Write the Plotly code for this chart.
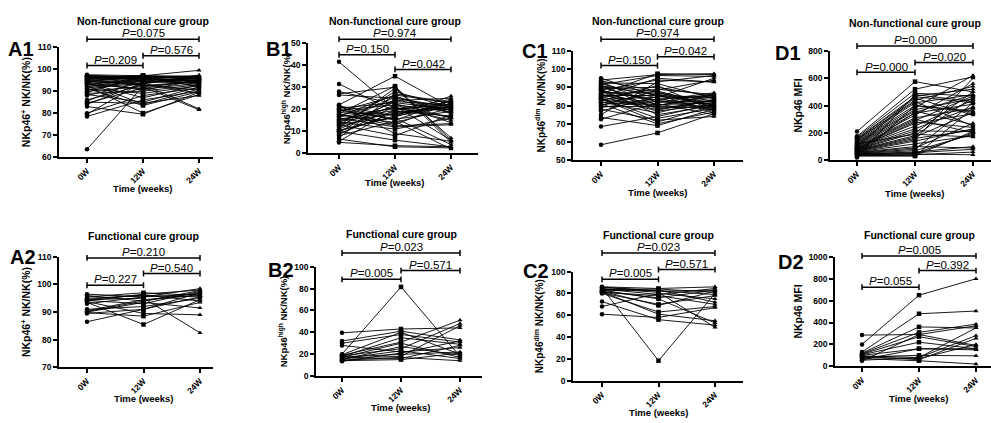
import plotly.graph_objects as go

# ---------------- data ----------------
CATEGORIES = ["0W", "12W", "24W"]

A1_0W = [97.5, 97, 96.8, 96.5, 96.3, 96, 95.8, 95.5, 95.2, 95, 94.6, 94.3, 94, 93.6, 93.2, 92.8, 92.5, 92, 91.5, 91,
         90.5, 90, 89.5, 89, 88.5, 88, 86, 85.5, 85, 84.5, 84, 83, 80, 79.5, 78.5, 63.5, 96.2, 95.4, 94.8, 93.8, 92.2,
         91.2, 96.9, 97.2, 94.1]
A1_12W = [97, 96.5, 96.8, 96, 95.5, 97, 94, 96.2, 93, 95.8, 92.5, 96.5, 84, 95, 91, 96, 80, 94.5, 93.5, 89,
          95.3, 92, 96.8, 90, 85, 94, 92.8, 95.5, 84.5, 91.5, 93.8, 79.5, 88, 94.2, 86, 92.3, 96.3, 97.2, 93.2, 87, 95.7,
          83.5, 94.8, 96.1, 90.5]
A1_24W = [99.5, 96, 95.5, 94, 97, 96.5, 95, 93, 82, 96, 94.5, 92, 91, 95.8, 93.5, 96.8, 88.5, 94, 89, 92.5,
          95.2, 81.5, 97, 93, 92, 96, 90.5, 94.8, 88, 95, 96.2, 89.5, 91.5, 93.8, 90, 94.2, 96.3, 95.6, 97.3, 92.8, 94.6,
          89.8, 95.1, 96.7, 94.9]
A1_P = ["0.209", "0.576", "0.075"]

B1_0W = [41.5, 31.5, 28, 27, 26.5, 22, 21.5, 21, 20.5, 20, 19.5, 19, 18.5, 18, 17.5, 17, 16.5, 16, 15.5, 15,
         14.5, 14, 13.5, 13, 12.5, 12, 11.5, 11, 10.5, 10, 9.5, 9, 8.5, 8, 7, 6.5, 5.5, 5, 19.8, 16.8, 14.2, 21.8,
         12.8, 17.8, 10.2]
B1_12W = [20, 19, 22.5, 30, 25, 35, 17, 15, 23, 13, 22, 26, 17.5, 30.5, 14, 24, 20.5, 12, 19.5, 21,
          18, 25.5, 16, 8, 23.5, 19, 29.5, 22, 16.5, 6, 24.5, 18.5, 21.5, 14.5, 27, 3, 20, 3.5, 15.5, 26.5, 11, 9,
          28, 12.5, 17]
B1_24W = [22, 17, 16, 5, 21, 21, 26, 24, 20, 23, 19, 18, 22.5, 6, 20.5, 25, 16.5, 13, 23.5, 15,
          21.5, 19.5, 4, 17.5, 22, 20, 7, 14, 24, 3, 18.5, 21, 6, 2, 23, 2.5, 24.5, 3, 19, 22.8, 16, 5.5,
          20.8, 13.5, 21.2]
B1_P = ["0.150", "0.042", "0.974"]

C1_0W = [95, 94, 93.5, 93, 92.5, 92, 91.5, 91, 90.5, 90, 89.5, 89, 88.5, 88, 87.5, 87, 86.5, 86, 85.5, 85,
         84.5, 84, 83.5, 83, 82.5, 82, 81.5, 81, 80.5, 80, 79.5, 79, 78, 77, 75, 73.5, 72.5, 68.5, 58.5, 86.2, 84.8,
         83.8, 90.8, 81.8, 88.2]
C1_12W = [85, 97, 88, 80, 92, 84, 96.5, 78, 86, 82, 90, 75, 94, 83, 79, 87, 97.5, 81, 85.5, 77,
          89, 73, 84.5, 80.5, 91, 76, 86.5, 70, 83.5, 88.5, 79.5, 82.5, 72, 85, 93, 69, 81.5, 74, 65, 77.5, 95,
          71, 87.5, 80, 83]
C1_24W = [82, 97.5, 80, 86, 84, 78, 96, 83, 76, 81, 85, 80, 93, 87, 79, 82.5, 97, 75, 84.5, 80.5,
          86, 78.5, 95, 81.5, 77, 83.5, 79.5, 76.5, 85.5, 94, 80, 82, 74, 84, 96.5, 78, 86.5, 81, 75.5, 83, 92.8,
          80, 79, 85, 77.5]
C1_P = ["0.150", "0.042", "0.974"]

D1_0W = [210, 175, 168, 160, 155, 148, 140, 135, 130, 125, 120, 115, 110, 105, 100, 95, 92, 88, 85, 80,
         78, 75, 72, 70, 66, 62, 60, 57, 55, 52, 50, 47, 45, 42, 40, 38, 35, 30, 25, 20, 100, 65, 85, 120, 150]
D1_12W = [575, 520, 490, 465, 455, 440, 420, 400, 385, 370, 360, 345, 330, 310, 300, 290, 270, 250, 230, 215,
          200, 180, 170, 160, 150, 140, 120, 100, 90, 80, 70, 60, 55, 50, 45, 40, 35, 30, 480, 400, 470, 350, 280,
          190, 430]
D1_24W = [500, 610, 470, 420, 330, 540, 480, 360, 620, 450, 260, 410, 560, 380, 200, 470, 340, 440, 390, 210,
          500, 460, 350, 220, 600, 230, 180, 90, 270, 420, 190, 100, 80, 200, 40, 60, 210, 380, 430, 350, 520,
          480, 240, 170, 250]
D1_P = ["0.000", "0.020", "0.000"]

A2_0W = [96.5, 96, 95.5, 95, 94.5, 94.2, 94, 93.8, 93.5, 93, 91, 90.5, 90, 89.8, 89.5, 86.5, 94.6, 90.2]
A2_12W = [95.5, 94, 97, 96, 95, 93, 96.5, 89.5, 85.5, 95.5, 92, 94.5, 93.5, 88.5, 91, 91, 96.2, 94]
A2_24W = [98.5, 97, 96, 95.5, 82.5, 97.5, 98, 89, 94.5, 96.5, 95, 96, 91.5, 93.5, 95.5, 97, 94, 97.8]
A2_P = ["0.227", "0.540", "0.210"]

B2_0W = [39.5, 32, 30, 28, 20, 19.5, 19, 18.5, 18, 17.5, 17, 16.5, 16, 15.5, 15, 14.5, 14, 13.5]
B2_12W = [43, 41, 38, 22, 81.5, 40, 31, 25, 35, 20, 30, 18, 23, 16, 27, 17, 15, 21]
B2_24W = [44, 33, 31, 26, 18, 20, 51, 48, 29, 22, 17, 46, 16, 28, 19, 14, 21, 32]
B2_P = ["0.005", "0.571", "0.023"]

C2_0W = [86, 85.5, 85, 84.5, 84, 83, 82.5, 82, 81.5, 81, 80.5, 80, 72.5, 68, 61, 83.5, 81.8, 85.8]
C2_12W = [84.5, 82, 18.5, 81, 79, 75, 83, 69, 61, 78, 70, 63, 56, 80, 58, 84, 76, 82.5]
C2_24W = [86, 83, 80, 49, 84.5, 53, 72, 82, 55, 70, 78, 68, 51, 75, 67, 81, 83, 79]
C2_P = ["0.005", "0.571", "0.023"]

D2_0W = [285, 200, 130, 120, 115, 110, 105, 100, 95, 90, 85, 80, 70, 60, 55, 50]
D2_12W = [290, 650, 480, 360, 310, 270, 220, 160, 80, 60, 100, 70, 50, 160, 80, 290]
D2_24W = [370, 800, 505, 350, 385, 180, 160, 160, 280, 255, 95, 200, 20, 150, 350, 190]
D2_P = ["0.055", "0.392", "0.005"]

NONFUNC_TITLE = "Non-functional cure group"
FUNC_TITLE = "Functional cure group"
X_TITLE = "Time (weeks)"
Y_A = "NKp46<sup>+</sup> NK/NK(%)"
Y_B = "NKp46<sup>high</sup> NK/NK(%)"
Y_C = "NKp46<sup>dim</sup> NK/NK(%)"
Y_D = "NKp46 MFI"

# ---------------- layout geometry (pixels) ----------------
W, H = 991, 423
FONT = "Liberation Sans"


def fx(px):
    return px / W


def fy(py):
    return 1 - py / H


panels = [
    dict(key="A1", data=(A1_0W, A1_12W, A1_24W), p=A1_P, title=NONFUNC_TITLE, ylab=Y_A,
         yr=(60, 110), dt=10, xl=59, xr=213, cat0=87, step=56, yt=43.3, yb=155.7,
         br=(62, 52, 35), lab=(21, 45), ytx=25, xty=188, tty=16.5, ysz=10.5),
    dict(key="B1", data=(B1_0W, B1_12W, B1_24W), p=B1_P, title=NONFUNC_TITLE, ylab=Y_B,
         yr=(0, 50), dt=10, xl=308, xr=478, cat0=339, step=56, yt=39, yb=152,
         br=(51, 66, 35), lab=(279, 45), ytx=286, xty=182, tty=16.5, ysz=9.5),
    dict(key="C1", data=(C1_0W, C1_12W, C1_24W), p=C1_P, title=NONFUNC_TITLE, ylab=Y_C,
         yr=(50, 110), dt=10, xl=573, xr=743, cat0=601, step=56.5, yt=47, yb=159,
         br=(62, 53, 35), lab=(535, 47), ytx=540, xty=192, tty=16.5, ysz=10),
    dict(key="D1", data=(D1_0W, D1_12W, D1_24W), p=D1_P, title=NONFUNC_TITLE, ylab=Y_D,
         yr=(0, 800), dt=200, xl=830, xr=991, cat0=857, step=58, yt=47, yb=159,
         br=(69, 59, 42), lab=(788, 49), ytx=798, xty=193, tty=18, ysz=10.5),
    dict(key="A2", data=(A2_0W, A2_12W, A2_24W), p=A2_P, title=FUNC_TITLE, ylab=Y_A,
         yr=(70, 110), dt=10, xl=59, xr=213, cat0=87, step=56.5, yt=258, yb=371,
         br=(287, 275, 259), lab=(23, 258), ytx=25, xty=403, tty=237, ysz=10.5),
    dict(key="B2", data=(B2_0W, B2_12W, B2_24W), p=B2_P, title=FUNC_TITLE, ylab=Y_B,
         yr=(0, 100), dt=20, xl=316, xr=482, cat0=342, step=59, yt=268, yb=380,
         br=(281, 272, 254), lab=(281, 271), ytx=283, xty=412, tty=234.5, ysz=9.5),
    dict(key="C2", data=(C2_0W, C2_12W, C2_24W), p=C2_P, title=FUNC_TITLE, ylab=Y_C,
         yr=(0, 100), dt=20, xl=573, xr=743, cat0=602, step=56.5, yt=273, yb=385,
         br=(281, 271, 254), lab=(536, 272), ytx=539, xty=417, tty=236, ysz=10),
    dict(key="D2", data=(D2_0W, D2_12W, D2_24W), p=D2_P, title=FUNC_TITLE, ylab=Y_D,
         yr=(0, 1000), dt=200, xl=835, xr=991, cat0=862, step=57, yt=258, yb=370,
         br=(289, 272, 257), lab=(791, 263), ytx=798, xty=403, tty=235.5, ysz=10.5),
]

SYMS = ["circle", "square", "triangle-up"]

fig = go.Figure()
shapes = []
annotations = []
layout_axes = {}

for i, pn in enumerate(panels, start=1):
    sfx = "" if i == 1 else str(i)
    xid, yid = "x" + sfx, "y" + sfx
    cols = pn["data"]
    n = len(cols[0])
    xs, ys, syms = [], [], []
    for k in range(n):
        for c in range(3):
            xs.append(c)
            ys.append(cols[c][k])
            syms.append(SYMS[c])
        xs.append(None)
        ys.append(None)
        syms.append("circle")
    fig.add_trace(go.Scatter(
        x=xs, y=ys, mode="lines+markers", xaxis=xid, yaxis=yid,
        line=dict(color="black", width=0.9),
        marker=dict(symbol=syms, size=4.5, color="black"),
        connectgaps=False, showlegend=False, hoverinfo="skip", cliponaxis=False,
    ))

    lo = -(pn["cat0"] - pn["xl"]) / pn["step"]
    hi = (pn["xr"] - pn["cat0"]) / pn["step"]
    tickfont = dict(family=FONT, size=8.5, color="black", weight="bold")
    layout_axes["xaxis" + sfx] = dict(
        domain=[fx(pn["xl"]), min(1.0, fx(pn["xr"]))], range=[lo, hi], anchor=yid,
        tickmode="array", tickvals=[0, 1, 2], ticktext=CATEGORIES, tickangle=-45,
        showline=True, linewidth=1.5, linecolor="black", ticks="outside", ticklen=4,
        tickwidth=1.5, tickcolor="black", showgrid=False, zeroline=False,
        tickfont=tickfont, fixedrange=True,
    )
    y0, y1 = pn["yr"]
    layout_axes["yaxis" + sfx] = dict(
        domain=[fy(pn["yb"]), fy(pn["yt"])], range=[y0, y1], anchor=xid,
        tick0=y0, dtick=pn["dt"], showline=True, linewidth=1.5, linecolor="black",
        ticks="outside", ticklen=4, tickwidth=1.5, tickcolor="black",
        showgrid=False, zeroline=False, tickfont=tickfont, fixedrange=True,
    )

    # significance brackets
    pairs = [(0, 1), (1, 2), (0, 2)]
    for (a, b), py, ptxt in zip(pairs, pn["br"], pn["p"]):
        ln = dict(color="black", width=1.5)
        shapes.append(dict(type="line", xref=xid, yref="paper", x0=a, x1=b,
                           y0=fy(py), y1=fy(py), line=ln))
        for xe in (a, b):
            shapes.append(dict(type="line", xref=xid, yref="paper", x0=xe, x1=xe,
                               y0=fy(py - 3), y1=fy(py + 3), line=ln))
        annotations.append(dict(x=(a + b) / 2, xref=xid, y=fy(py - 6), yref="paper",
                                text="<i>P</i>=" + ptxt, showarrow=False,
                                xanchor="center", yanchor="middle",
                                font=dict(family=FONT, size=11.5, color="black")))

    # panel title
    annotations.append(dict(x=1, xref=xid, y=fy(pn["tty"]), yref="paper",
                            text="<b>" + pn["title"] + "</b>", showarrow=False,
                            xanchor="center", yanchor="middle",
                            font=dict(family=FONT, size=10.5, color="black")))
    # panel label
    annotations.append(dict(x=fx(pn["lab"][0]), xref="paper", y=fy(pn["lab"][1]), yref="paper",
                            text="<b>" + pn["key"] + "</b>", showarrow=False,
                            xanchor="center", yanchor="middle",
                            font=dict(family=FONT, size=20, color="black")))
    # y-axis title
    annotations.append(dict(x=fx(pn["ytx"]), xref="paper", y=fy((pn["yt"] + pn["yb"]) / 2), yref="paper",
                            text="<b>" + pn["ylab"] + "</b>", showarrow=False, textangle=-90,
                            xanchor="center", yanchor="middle",
                            font=dict(family=FONT, size=pn["ysz"], color="black")))
    # x-axis title
    annotations.append(dict(x=1, xref=xid, y=fy(pn["xty"]), yref="paper",
                            text="<b>" + X_TITLE + "</b>", showarrow=False,
                            xanchor="center", yanchor="middle",
                            font=dict(family=FONT, size=9.5, color="black")))

fig.update_layout(
    width=W, height=H, margin=dict(l=0, r=0, t=0, b=0),
    paper_bgcolor="white", plot_bgcolor="white",
    shapes=shapes, annotations=annotations, showlegend=False,
    **layout_axes,
)

fig.write_html("out.html")
